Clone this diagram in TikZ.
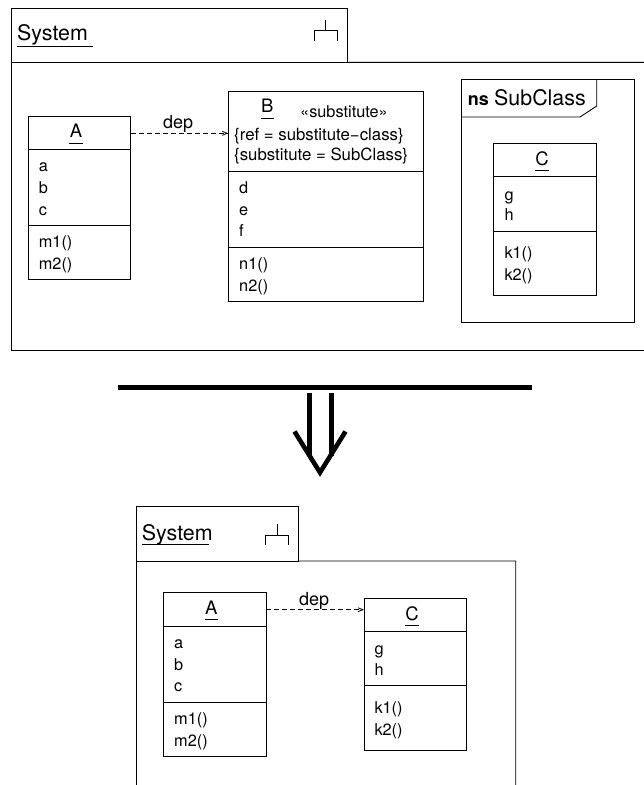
\documentclass[tikz,border=0pt]{standalone}
\usepackage{fontspec}
\setmainfont{TeX Gyre Heros}
\usetikzlibrary{arrows.meta}

\tikzset{
  box/.style={draw, inner sep=0pt, outer sep=0pt, anchor=north west, line width=0.9pt},
  classbox/.style={box, minimum width=102.8pt},
  txt/.style={anchor=base west, inner sep=0pt, font=\fontsize{16.3}{16.3}\selectfont},
  head/.style={txt, anchor=base, font=\fontsize{18.5}{18.5}\selectfont},
  big/.style={txt, font=\fontsize{21.4}{21.4}\selectfont},
  wide/.style={txt, font=\fontsize{16.8}{16.8}\selectfont},
  dep/.style={draw, line width=0.8pt, dash pattern=on 5pt off 3pt, -{Straight Barb[length=5pt,width=4pt]}},
  thin/.style={line width=0.9pt},
  heavy/.style={line width=4.6pt, miter limit=10}
}

\begin{document}
\begin{tikzpicture}[x=1pt,y=-1pt]
\useasboundingbox (0,0) rectangle (644,785);

% upper package
\node [box, minimum width=335.8pt, minimum height=53.6pt] (sysTab) at (11.5,8.8) {};
\draw [thin] (sysTab.south west) -- (11.5,350) -- (644,350);
\draw [thin] (sysTab.south east) -- (644,62.4);
\node [big] (sysName) at (17,40.7) {System};
\draw [thin] (17,46.3) -- (93,46.3);
\coordinate (iconL) at (314.5,40.7); \coordinate (iconR) at (337,40.7); \coordinate (iconT) at (325.7,19.5);
\draw [thin] (iconL) -- (314.5,30.7) -- (337,30.7) -- (iconR); \draw [thin] (iconT) -- (325.7,30.7);

% class A
\node [classbox, minimum height=33.3pt] (Ahead) at (28,116) {};
\node [classbox, minimum height=76pt] (Aattr) at (Ahead.south west) {};
\node [classbox, minimum height=54pt] (Aops) at (Aattr.south west) {};
\node [head] (Aname) at (76,137.7) {A}; \draw [thin] (69.3,143) -- (82.7,143);
\node [txt] (Aa) at (38.7,171) {a};
\node [txt] (Ab) at (38.7,193.3) {b};
\node [txt] (Ac) at (38.7,215) {c};
\node [txt] (Am1) at (38.7,247.3) {m1()};
\node [txt] (Am2) at (38.7,269.3) {m2()};

% class B
\node [box, minimum width=195pt, minimum height=80.7pt] (Bhead) at (228.3,91) {};
\node [box, minimum width=195pt, minimum height=75.6pt] (Battr) at (Bhead.south west) {};
\node [box, minimum width=195pt, minimum height=54pt] (Bops) at (Battr.south west) {};
\node [head] (Bname) at (267.3,112.7) {B}; \draw [thin] (261,118) -- (273.5,118);
\node [txt] (Bstereo) at (300,117.3) {«substitute»};
\node [wide] (Bref) at (234,140) {\{ref = substitute−class\}};
\node [wide] (Bsub) at (234,160.7) {\{substitute = SubClass\}};
\node [txt] (Bd) at (239,193.3) {d};
\node [txt] (Be) at (239,215) {e};
\node [txt] (Bf) at (239,236) {f};
\node [txt] (Bn1) at (239,269.3) {n1()};
\node [txt] (Bn2) at (239,291) {n2()};

\draw [dep] (Ahead.east |- 0,133.3) -- (Bhead.west |- 0,133.3);
\node [txt, font=\fontsize{18}{18}\selectfont] (depTop) at (163,128.3) {dep};

% namespace frame
\node [box, minimum width=173.7pt, minimum height=243.7pt] (nsFrame) at (461,79) {};
\draw [thin] (nsFrame.north west |- 0,117) -- (580,117) -- (596.7,106) -- (596.7,79);
\node [txt, font=\fontsize{18}{18}\selectfont\bfseries] (nsKey) at (467.7,105.7) {ns};
\node [big] (nsName) at (494,105.7) {SubClass};

% class C in the frame
\node [classbox, minimum height=33.7pt] (Chead) at (493.7,143) {};
\node [classbox, minimum height=54.3pt] (Cattr) at (Chead.south west) {};
\node [classbox, minimum height=64.7pt] (Cops) at (Cattr.south west) {};
\node [head] (Cname) at (542,165) {C}; \draw [thin] (535,170) -- (549,170);
\node [txt] (Cg) at (504.3,200) {g};
\node [txt] (Ch) at (504.3,220) {h};
\node [txt] (Ck1) at (504.3,258.7) {k1()};
\node [txt] (Ck2) at (504.3,280) {k2()};

% the transformation bar and arrow
\coordinate (barL) at (118,387.7); \coordinate (barR) at (532,387.7);
\draw [heavy] (barL) -- (barR);
\coordinate (tip) at (320,472.5);
\draw [heavy] (309.3,393) -- (309.3,456); \draw [heavy] (331.3,393) -- (331.3,456);
\draw [heavy] (294.5,431.5) -- (tip) -- (345.5,431.5);

% lower package
\node [box, minimum width=162.7pt, minimum height=54.3pt] (sys2Tab) at (136,506.7) {};
\draw [thin] (sys2Tab.south west) -- (136,785);
\draw [thin] (sys2Tab.south east) -- (515.7,561) -- (515.7,785);
\node [big] (sys2Name) at (141.7,540) {System};
\draw [thin] (141.7,544.3) -- (209,544.3);
\coordinate (icon2L) at (265.7,544.7); \coordinate (icon2R) at (288.7,544.7); \coordinate (icon2T) at (277.3,524);
\draw [thin] (icon2L) -- (265.7,535) -- (288.7,535) -- (icon2R); \draw [thin] (icon2T) -- (277.3,535);

% class A again
\node [classbox, minimum height=34pt] (A2head) at (163.4,592.3) {};
\node [classbox, minimum height=76pt] (A2attr) at (A2head.south west) {};
\node [classbox, minimum height=54pt] (A2ops) at (A2attr.south west) {};
\node [head] (A2name) at (211.3,614.3) {A}; \draw [thin] (205,619.7) -- (218.2,619.7);
\node [txt] (A2a) at (174,648.3) {a};
\node [txt] (A2b) at (174,670) {b};
\node [txt] (A2c) at (174,691) {c};
\node [txt] (A2m1) at (174,724) {m1()};
\node [txt] (A2m2) at (174,746) {m2()};

% class C again
\node [classbox, minimum height=33.7pt] (C2head) at (364,598) {};
\node [classbox, minimum height=54pt] (C2attr) at (C2head.south west) {};
\node [classbox, minimum height=65pt] (C2ops) at (C2attr.south west) {};
\node [head] (C2name) at (412,620) {C}; \draw [thin] (405,625.3) -- (419,625.3);
\node [txt] (C2g) at (374.3,654.3) {g};
\node [txt] (C2h) at (374.3,675) {h};
\node [txt] (C2k1) at (374.3,713.3) {k1()};
\node [txt] (C2k2) at (374.3,735) {k2()};

\draw [dep] (A2head.east |- 0,609.7) -- (C2head.west |- 0,609.7);
\node [txt, font=\fontsize{18}{18}\selectfont] (depBot) at (299,605) {dep};

\end{tikzpicture}
\end{document}
